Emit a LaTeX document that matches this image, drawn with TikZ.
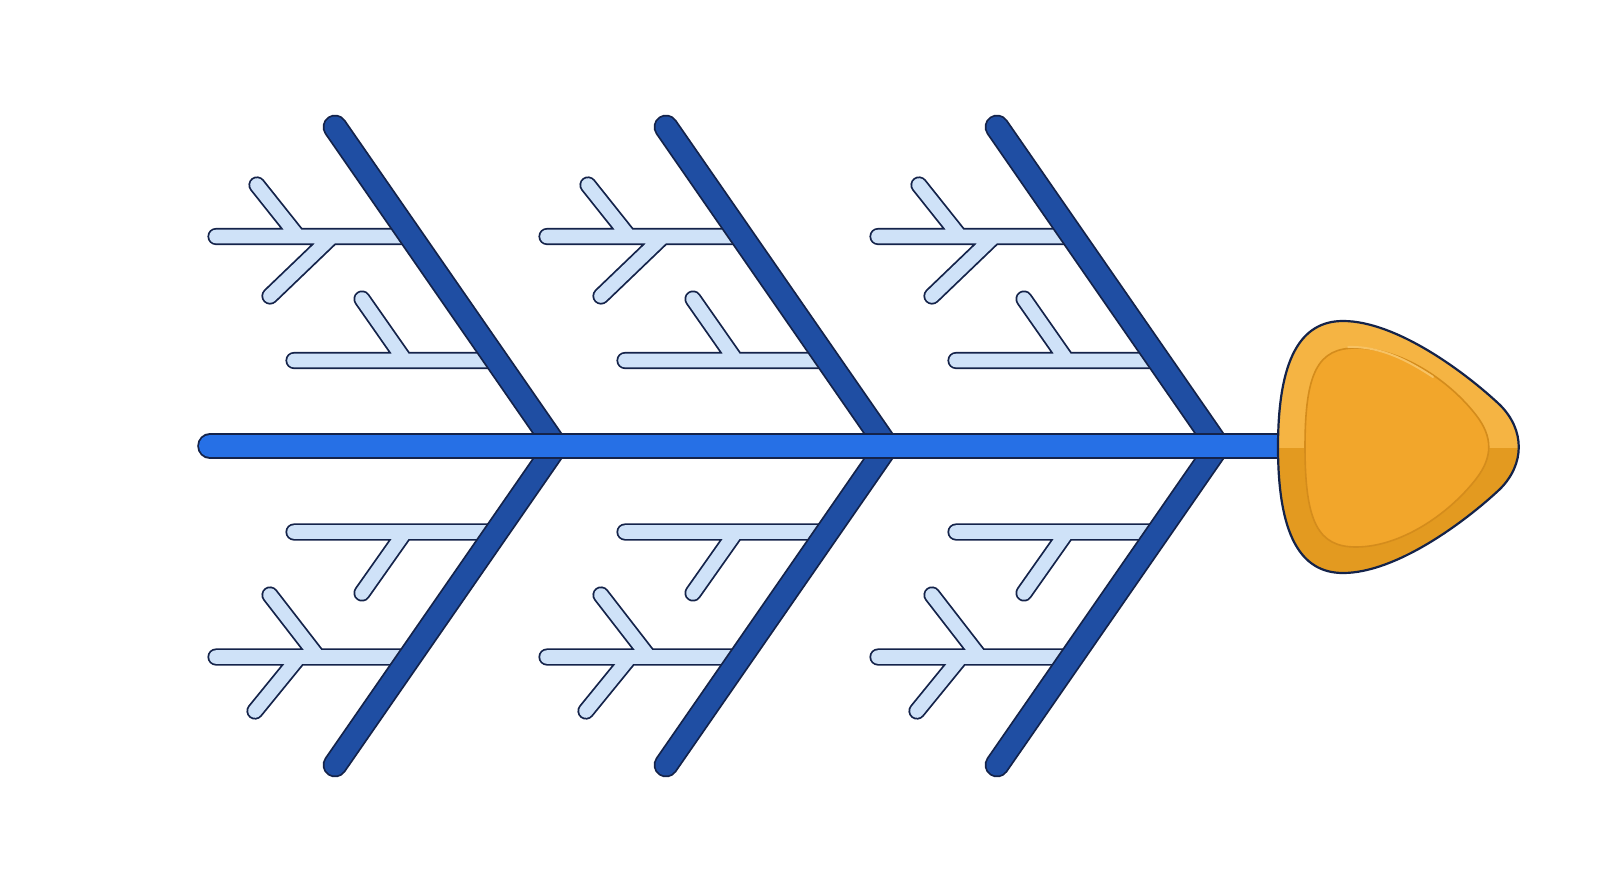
\documentclass[tikz,border=0pt]{standalone}
\definecolor{lineC}{HTML}{14234A}
\definecolor{boneC}{HTML}{1F4EA3}
\definecolor{spineC}{HTML}{2670E6}
\definecolor{subC}{HTML}{CFE2F8}
\definecolor{headUp}{HTML}{F5B443}
\definecolor{headLo}{HTML}{E39A20}
\definecolor{headIn}{HTML}{F2A62B}
\definecolor{headInLine}{HTML}{D48C1C}
\definecolor{headHi}{HTML}{F7C263}
\tikzset{
  subout/.style={draw=lineC,line width=8.6pt,line cap=round},
  subin/.style={draw=subC,line width=6.8pt,line cap=round},
  boneout/.style={draw=lineC,line width=12.4pt,line cap=round},
  bonein/.style={draw=boneC,line width=10.6pt,line cap=round},
  spineout/.style={draw=lineC,line width=12.8pt,line cap=round},
  spinein/.style={draw=spineC,line width=11pt,line cap=round},
}
\newcommand\subbones[1]{%
  \draw[#1] (216,236.5)--(410,236.5) (257,185)--(298,236.5) (332,236.5)--(270,296)
            (294,360.5)--(497,360.5) (362,299)--(405,360.5)
            (294,532)--(497,532) (405,532)--(362,593)
            (216,657)--(410,657) (270,595)--(318,657) (299,657)--(255,711);}
\newcommand\outerhead[1]{%
  \path[#1] (1278,447) .. controls (1278,360) and (1300,321) .. (1343,321)
     .. controls (1396,321) and (1465,372) .. (1500,405)
     .. controls (1525,430) and (1525,464) .. (1500,489)
     .. controls (1465,522) and (1396,573) .. (1343,573)
     .. controls (1300,573) and (1278,534) .. (1278,447) -- cycle;}
\begin{document}
\begin{tikzpicture}[x=0.5pt,y=-0.5pt]
\fill[white] (0,0) rectangle (1600,894);
\foreach \dx/\i in {0/a,331/b,662/c}{
  \begin{scope}[shift={(\dx,0)}]
    \subbones{subout}
    \subbones{subin}
    \coordinate (top\i) at (335,127);
    \coordinate (vx\i) at (556,446);
    \coordinate (bot\i) at (335,765);
    \draw[boneout] (top\i)--(vx\i) (vx\i)--(bot\i);
    \draw[bonein] (top\i)--(vx\i) (vx\i)--(bot\i);
  \end{scope}
}
\coordinate (tail) at (210,446);
\coordinate (neck) at (1295,446);
\draw[spineout] (tail)--(neck);
\draw[spinein] (tail)--(neck);
% head
\outerhead{fill=headLo}
\begin{scope}
  \clip (1260,300) rectangle (1540,447);
  \outerhead{fill=headUp}
\end{scope}
\path[fill=headIn,draw=headInLine,line width=0.8pt]
  (1305,447) .. controls (1305,372) and (1318,348) .. (1356,348)
  .. controls (1400,348) and (1448,379) .. (1476,415)
  .. controls (1493,437) and (1493,457) .. (1476,479)
  .. controls (1448,515) and (1400,547) .. (1356,547)
  .. controls (1318,547) and (1305,522) .. (1305,447) -- cycle;
\draw[headHi,line width=1pt,line cap=round] (1348,347) .. controls (1382,346) and (1410,362) .. (1433,377);
\outerhead{draw=lineC,line width=1.1pt}
\end{tikzpicture}
\end{document}
